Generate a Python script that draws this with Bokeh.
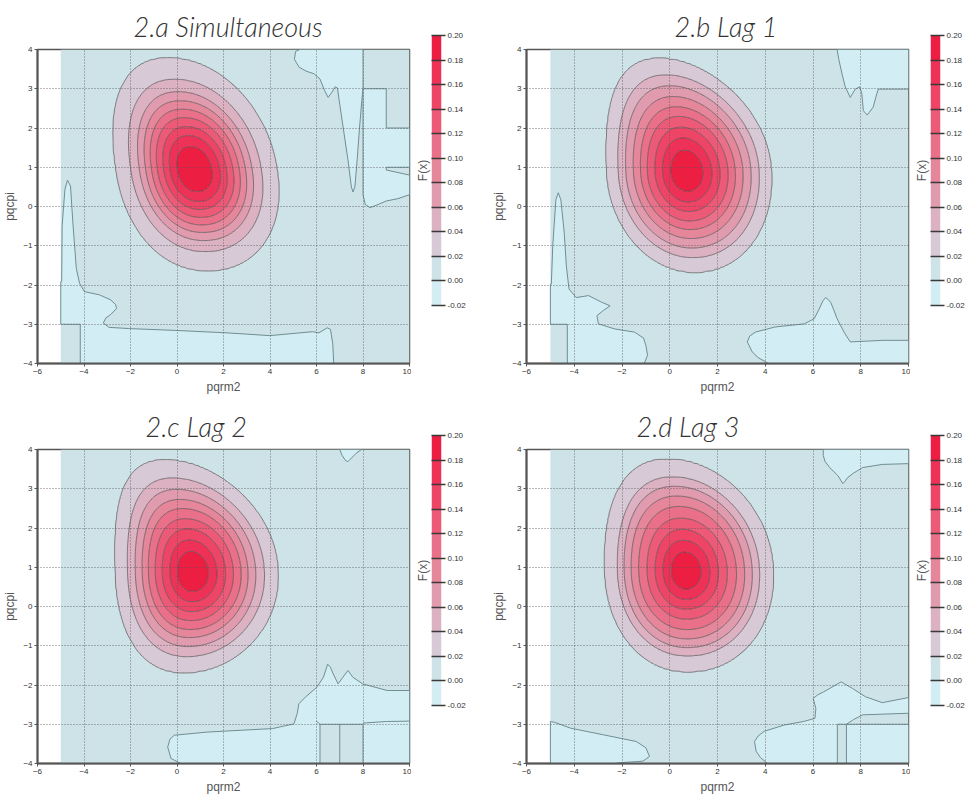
import numpy as np
from bokeh.plotting import figure
from bokeh.models import Range1d, LinearAxis, FixedTicker, PrintfTickFormatter, Spacer
from bokeh.layouts import row, column
from bokeh.embed import file_html
from bokeh.resources import INLINE

# ---------------- data ----------------
titles = ["2.a Simultaneous", "2.b Lag 1", "2.c Lag 2", "2.d Lag 3"]
title_offsets = [96, 148, 108, 110]

x_ticks = [-6, -4, -2, 0, 2, 4, 6, 8, 10]
y_ticks = [-4, -3, -2, -1, 0, 1, 2, 3, 4]
x_label = "pqrm2"
y_label = "pqcpi"
cb_label = "F(x)"

# colour-bar levels and band colours (band i spans levels[i]..levels[i+1])
levels = [-0.02, 0.00, 0.02, 0.04, 0.06, 0.08, 0.10, 0.12, 0.14, 0.16, 0.18, 0.20]
band_colors = ["#d3edf4", "#cde3e8", "#d8c9d6", "#dcb2c2", "#e09cae", "#e5869b",
               "#e97088", "#ec5a77", "#ee4567", "#ee3157", "#ec1e42"]

# density peak (value, position) and outer 0.02-contour reach for each panel
peak_value = [0.195, 0.195, 0.195, 0.195]
peak_x = [0.74, 0.70, 0.65, 0.66]
peak_y = [0.92, 0.88, 0.86, 0.89]
lean_lin = [0.25, 0.08, 0.05, 0.05]
lean_sq = [0.02, 0.065, 0.025, 0.035]
bend = [0.03, 0.045, 0.10, 0.04]
shape_power = [2.15, 2.05, 2.1, 2.1]
reach_left = [3.36, 3.34, 3.30, 3.38]
reach_right = [3.57, 3.56, 3.70, 3.68]
reach_up = [2.86, 2.89, 2.87, 2.86]
reach_down = [2.55, 2.55, 2.54, 2.55]

# relative size of each contour ring (levels 0.18 .. 0.02), outer ring = 1
ring_levels = [0.18, 0.16, 0.14, 0.12, 0.10, 0.08, 0.06, 0.04, 0.02]
ring_size_a = [0.215, 0.31, 0.39, 0.47, 0.545, 0.62, 0.70, 0.81, 1.00]
ring_size_b = [0.195, 0.30, 0.395, 0.49, 0.575, 0.665, 0.76, 0.855, 1.00]
ring_size_c = [0.19, 0.29, 0.39, 0.48, 0.57, 0.65, 0.74, 0.84, 1.00]
ring_size_d = [0.176, 0.278, 0.376, 0.476, 0.58, 0.673, 0.76, 0.842, 1.00]
ring_sizes = [ring_size_a, ring_size_b, ring_size_c, ring_size_d]
tail_size = [1.6, 3.0]
tail_value = [0.004, 0.001]

# regions below zero (outlines of the light-blue areas)
neg_regions_a = [
    [(5.28, 4), (8, 4), (8, 3), (7.95, 2.7), (7.85, 2.0), (7.75, 1.2), (7.65, 0.5), (7.57, 0.37),
     (7.5, 0.5), (7.35, 1.2), (7.15, 2.0), (7.0, 2.6), (6.9, 3.02), (6.8, 3.05), (6.65, 2.9),
     (6.5, 2.78), (6.35, 2.95), (6.15, 3.25), (5.9, 3.38), (5.55, 3.45), (5.25, 3.55),
     (5.05, 3.75), (5.1, 3.95)],
    [(8, 3), (9, 3), (9, 2), (10, 2), (10, 1.0), (9.0, 1.0), (9.0, 0.93), (10, 0.8), (10, 0.3),
     (9.5, 0.2), (9.0, 0.14), (8.6, 0.04), (8.3, -0.03), (8.1, 0.05), (8.0, 0.3)],
    [(-4.96, -1.92), (-4.94, -0.49), (-4.82, 0.44), (-4.71, 0.67), (-4.58, 0.52), (-4.47, -0.49),
     (-4.33, -1.58), (-4.19, -1.96), (-3.98, -2.17), (-3.34, -2.25), (-2.85, -2.38),
     (-2.64, -2.5), (-2.6, -2.6), (-2.85, -2.75), (-3.06, -2.84), (-3.17, -2.97),
     (-2.92, -3.08), (-2.07, -3.11), (0.04, -3.16), (2.16, -3.22), (3.99, -3.29),
     (5.83, -3.19), (6.1, -3.22), (6.46, -3.09), (6.6, -3.13), (6.7, -3.5), (6.74, -4),
     (-4.16, -4), (-4.16, -3.0), (-5, -3.0), (-5, -1.92)],
]
neg_regions_b = [
    [(7.01, 4), (10, 4), (10, 2.99), (8.73, 2.99), (8.63, 2.78), (8.52, 2.53), (8.27, 2.33),
     (8.11, 2.44), (8.04, 2.9), (7.95, 3.05), (7.77, 2.99), (7.56, 2.78), (7.35, 3.05),
     (7.22, 3.37), (7.08, 3.75)],
    [(-4.96, -1.98), (-4.9, -1.0), (-4.77, 0.17), (-4.67, 0.35), (-4.56, 0.17), (-4.42, -0.67),
     (-4.33, -1.52), (-4.22, -2.1), (-3.92, -2.32), (-3.4, -2.27), (-2.85, -2.44), (-2.5, -2.53),
     (-2.78, -2.65), (-3.05, -2.78), (-2.99, -2.99), (-2.3, -3.12), (-1.48, -3.2),
     (-1.1, -3.35), (-1.0, -3.54), (-0.93, -3.79), (-1.07, -4.0), (-4.29, -4), (-4.29, -3.0),
     (-5, -3.0), (-5, -1.98)],
    [(4.14, -4), (3.7, -3.85), (3.45, -3.7), (3.25, -3.45), (3.35, -3.3), (3.59, -3.2),
     (4.41, -3.07), (5.64, -2.99), (6.05, -2.86), (6.26, -2.61), (6.42, -2.4), (6.53, -2.32),
     (6.65, -2.38), (6.74, -2.44), (6.88, -2.65), (7.01, -2.86), (7.3, -3.2), (7.56, -3.45),
     (8.93, -3.41), (10, -3.41), (10, -4)],
]
neg_regions_c = [
    [(7.0, 4), (7.1, 3.85), (7.25, 3.72), (7.35, 3.69), (7.5, 3.78), (7.7, 3.9), (7.93, 4)],
    [(0.16, -4), (-0.26, -3.87), (-0.4, -3.58), (-0.3, -3.38), (-0.12, -3.28), (1.29, -3.2),
     (4.11, -3.11), (5.03, -2.99), (5.17, -2.73), (5.24, -2.48), (5.52, -2.31), (6.01, -2.06),
     (6.3, -1.8), (6.48, -1.47), (6.6, -1.55), (6.72, -1.72), (6.93, -1.97), (7.14, -1.8),
     (7.35, -1.63), (7.56, -1.8), (7.98, -1.97), (9.04, -2.14), (10, -2.14), (10, -4),
     (8.0, -4), (8.0, -3.0), (6.15, -3.0), (6.15, -4)],
]
neg_regions_d = [
    [(6.43, 4), (10, 4), (10, 3.64), (8.9, 3.62), (8.08, 3.54), (7.7, 3.4), (7.46, 3.29),
     (7.35, 3.2), (7.25, 3.13), (7.05, 3.33), (6.7, 3.54), (6.5, 3.7), (6.43, 3.85)],
    [(-5, -2.93), (-4.83, -2.95), (-4.15, -3.1), (-2.77, -3.27), (-1.4, -3.44), (-1.0, -3.6),
     (-0.85, -3.82), (-1.12, -3.94), (-2.09, -3.98), (-2.3, -4), (-5, -4)],
    [(4.1, -4), (3.8, -3.85), (3.62, -3.69), (3.55, -3.44), (3.7, -3.3), (3.96, -3.18),
     (4.79, -3.02), (5.6, -2.93), (6.08, -2.85), (6.12, -2.6), (6.01, -2.34), (6.2, -2.25),
     (6.43, -2.18), (7.18, -1.92), (7.66, -2.09), (8.2, -2.3), (8.9, -2.45), (10, -2.32),
     (10, -2.72), (8.08, -2.76), (7.7, -2.88), (7.4, -3.0), (10, -3.0), (10, -4), (7.4, -4),
     (7.4, -3.0), (7.02, -3.0), (7.02, -4)],
]
neg_regions = [neg_regions_a, neg_regions_b, neg_regions_c, neg_regions_d]

# extra cell-edge lines of the original renderer
edge_lines_c = [[(7, -4), (7, -3)], [(6.0, -2.93), (6.08, -2.96), (6.15, -3.0)],
                [(8, -2.97), (9, -2.93), (10, -2.92)]]
edge_lines = [[], [], edge_lines_c, []]

data_x_range = (-5, 10)
data_y_range = (-4, 4)

# ---------------- styling ----------------
FRAME_H = 314
FRAME_W = [372, 382, 372, 382]
TEXT_FONT = "Liberation Sans"
TITLE_FONT = "'Lato Light', Lato"
ZERO_LINE = "#6f8e92"


def density(i):
    gx = np.linspace(data_x_range[0], data_x_range[1], 301)
    gy = np.linspace(data_y_range[0], data_y_range[1], 161)
    X, Y = np.meshgrid(gx, gy)
    dx = X - peak_x[i]
    dy = Y - peak_y[i]
    u = dx + lean_lin[i] * dy + lean_sq[i] * dy * np.abs(dy) + bend[i] * dy ** 2
    su = np.where(u < 0, reach_left[i], reach_right[i])
    sv = np.where(dy > 0, reach_up[i], reach_down[i])
    pw = shape_power[i]
    rho = (np.abs(u / su) ** pw + np.abs(dy / sv) ** pw) ** (1.0 / pw)
    knots = [0.0] + ring_sizes[i] + tail_size
    vals = [peak_value[i]] + ring_levels + tail_value
    return gx, gy, np.interp(rho, knots, vals)


def main_fig(i):
    p = figure(frame_width=FRAME_W[i], frame_height=FRAME_H,
               x_range=Range1d(-6, 10), y_range=Range1d(-4, 4),
               min_border_left=28, min_border_right=2, min_border_top=48, min_border_bottom=30,
               toolbar_location=None, output_backend="svg", title=titles[i])
    p.background_fill_color = "white"
    p.border_fill_color = "white"
    p.outline_line_color = "#555555"
    p.outline_line_width = 1.5

    t = p.title
    t.align = "left"
    t.offset = title_offsets[i]
    t.text_font = TITLE_FONT
    t.text_font_style = "italic"
    t.text_font_size = "27px"
    t.text_color = "#333333"
    t.standoff = 14

    gx, gy, z = density(i)
    p.contour(x=gx, y=gy, z=z, levels=levels[1:], fill_color=band_colors[1:],
              line_color="#4a4a4a", line_alpha=0.75, line_width=0.9)

    regs = neg_regions[i]
    p.patches(xs=[[pt[0] for pt in r] for r in regs], ys=[[pt[1] for pt in r] for r in regs],
              fill_color=band_colors[0], line_color=ZERO_LINE, line_width=1)
    if edge_lines[i]:
        p.multi_line(xs=[[pt[0] for pt in l] for l in edge_lines[i]],
                     ys=[[pt[1] for pt in l] for l in edge_lines[i]],
                     line_color=ZERO_LINE, line_width=1)

    p.xaxis.ticker = FixedTicker(ticks=x_ticks)
    p.yaxis.ticker = FixedTicker(ticks=y_ticks)
    p.xaxis.axis_label = x_label
    p.yaxis.axis_label = y_label
    for ax in (p.xaxis, p.yaxis):
        ax.major_label_text_font = TEXT_FONT
        ax.major_label_text_font_size = "8px"
        ax.major_label_text_color = "#333333"
        ax.axis_label_text_font = TEXT_FONT
        ax.axis_label_text_font_size = "12px"
        ax.axis_label_text_font_style = "normal"
        ax.axis_label_text_color = "#555555"
        ax.major_tick_out = 3
        ax.major_tick_in = 0
        ax.major_tick_line_color = "#555555"
        ax.minor_tick_line_color = None
        ax.axis_line_color = "#555555"
        ax.axis_line_width = 2
        ax.major_label_standoff = 2
        ax.axis_label_standoff = 3

    for g in (p.xgrid, p.ygrid):
        g.level = "overlay"
        g.grid_line_color = "#555555"
        g.grid_line_alpha = 0.8
        g.grid_line_dash = "1 2"
        g.grid_line_width = 1
    return p


def colorbar_fig():
    cb = figure(frame_width=10, frame_height=270,
                min_border_top=5, min_border_bottom=5, min_border_left=20, min_border_right=28,
                x_range=Range1d(0, 1), y_range=Range1d(levels[0], levels[-1]),
                x_axis_location=None, y_axis_location="left",
                toolbar_location=None, output_backend="svg")
    cb.outline_line_color = None
    cb.grid.visible = False
    cb.background_fill_color = "white"
    cb.border_fill_color = "white"
    cb.quad(left=0, right=1, bottom=levels[:-1], top=levels[1:], fill_color=band_colors,
            line_color=None)
    ly = cb.yaxis[0]
    ly.ticker = FixedTicker(ticks=[])
    ly.axis_line_color = None
    ly.major_tick_line_color = None
    ly.minor_tick_line_color = None
    ly.axis_label = cb_label
    ly.axis_label_text_font = TEXT_FONT
    ly.axis_label_text_font_size = "12px"
    ly.axis_label_text_font_style = "normal"
    ly.axis_label_text_color = "#555555"
    ly.axis_label_standoff = 2

    ra = LinearAxis(ticker=FixedTicker(ticks=levels),
                    formatter=PrintfTickFormatter(format="%.2f"))
    ra.axis_line_color = None
    ra.major_tick_in = 10
    ra.major_tick_out = 4
    ra.major_tick_line_color = "#3a3a3a"
    ra.major_tick_line_width = 1.5
    ra.minor_tick_line_color = None
    ra.major_label_text_font = TEXT_FONT
    ra.major_label_text_font_size = "8px"
    ra.major_label_text_color = "#333333"
    ra.major_label_standoff = 2
    cb.add_layout(ra, "right")
    return column(Spacer(height=30), cb)


figs = [main_fig(i) for i in range(4)]
cbs = [colorbar_fig() for _ in range(4)]

layout = column(
    row(figs[0], cbs[0], Spacer(width=20), figs[1], cbs[1]),
    Spacer(height=4),
    row(figs[2], cbs[2], Spacer(width=20), figs[3], cbs[3]),
)

open("out.html", "w").write(file_html(layout, INLINE))
